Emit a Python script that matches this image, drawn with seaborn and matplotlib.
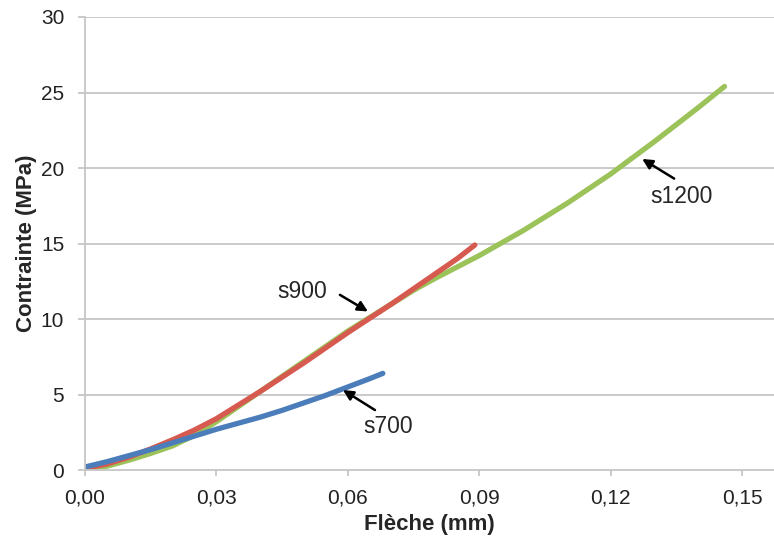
import pandas as pd
import numpy as np
import matplotlib
matplotlib.use("Agg")
import matplotlib.pyplot as plt
import seaborn as sns

# data
x_s700 = [0, 0.005, 0.01, 0.015, 0.02, 0.025, 0.03, 0.035, 0.04, 0.045, 0.05, 0.055, 0.06, 0.065, 0.068]
y_s700 = [0.2, 0.55, 0.95, 1.35, 1.8, 2.25, 2.7, 3.1, 3.5, 3.95, 4.45, 4.95, 5.5, 6.05, 6.4]

x_s900 = [0, 0.005, 0.01, 0.015, 0.02, 0.025, 0.03, 0.035, 0.04, 0.045, 0.05, 0.055, 0.06,
          0.065, 0.07, 0.075, 0.08, 0.085, 0.089]
y_s900 = [0.1, 0.4, 0.85, 1.4, 2.0, 2.65, 3.4, 4.3, 5.2, 6.15, 7.1, 8.1, 9.1,
          10.05, 11.0, 12.0, 13.0, 14.0, 14.9]

x_s1200 = [0, 0.005, 0.01, 0.015, 0.02, 0.025, 0.03, 0.035, 0.04, 0.045, 0.05, 0.055, 0.06,
           0.065, 0.07, 0.075, 0.08, 0.09, 0.1, 0.11, 0.12, 0.13, 0.14, 0.146]
y_s1200 = [0.05, 0.25, 0.65, 1.1, 1.6, 2.3, 3.2, 4.2, 5.2, 6.2, 7.2, 8.2, 9.2,
           10.1, 11.0, 11.9, 12.7, 14.2, 15.85, 17.65, 19.6, 21.75, 24.0, 25.4]

x_ticks = [0, 0.03, 0.06, 0.09, 0.12, 0.15]
x_tick_labels = ['0,00', '0,03', '0,06', '0,09', '0,12', '0,15']
y_ticks = [0, 5, 10, 15, 20, 25, 30]

sns.set_style("white")
plt.rcParams['font.family'] = ['Liberation Sans', 'DejaVu Sans']

fig = plt.figure(figsize=(7.74, 5.43), dpi=100)
ax = fig.add_axes([0.1098, 0.1344, 0.8902, 0.8343])

grid_c = '#c6c6c6'
for y in y_ticks[1:]:
    ax.axhline(y, color=grid_c, lw=1.3, zorder=0)

# green first, then red, then blue on top
sns.lineplot(x=x_s1200, y=y_s1200, ax=ax, color='#9cc35a', lw=3.8, sort=False, estimator=None)
sns.lineplot(x=x_s900, y=y_s900, ax=ax, color='#d65a50', lw=3.8, sort=False, estimator=None)
sns.lineplot(x=x_s700, y=y_s700, ax=ax, color='#4a7dba', lw=3.8, sort=False, estimator=None)

ax.set_xlim(0, 0.1573)
ax.set_ylim(0, 30)
ax.set_xticks(x_ticks)
ax.set_xticklabels(x_tick_labels)
ax.set_yticks(y_ticks)
ax.set_yticklabels([str(v) for v in y_ticks])

for s in ['top', 'right']:
    ax.spines[s].set_visible(False)
for s in ['left', 'bottom']:
    ax.spines[s].set_color(grid_c)
    ax.spines[s].set_linewidth(1.3)

ax.tick_params(axis='y', length=5, width=1.3, color=grid_c, pad=10, labelsize=15, labelcolor='#222222', left=True)
ax.tick_params(axis='x', length=4, width=1.3, color=grid_c, pad=9, labelsize=15, labelcolor='#222222', bottom=True)

ax.set_xlabel('Flèche (mm)', fontsize=16, fontweight='bold', labelpad=5)
ax.set_ylabel('Contrainte (MPa)', fontsize=16, fontweight='bold', labelpad=3)

arrow = dict(arrowstyle='-|>', color='black', lw=1.8, mutation_scale=15, shrinkA=0, shrinkB=0)
ax.annotate('', xy=(0.0646, 10.5), xytext=(0.0582, 11.6), arrowprops=arrow)
ax.text(0.0495, 11.8, 's900', fontsize=16.5, ha='center', va='center')
ax.annotate('', xy=(0.0589, 5.3), xytext=(0.0662, 3.97), arrowprops=arrow)
ax.text(0.0692, 2.85, 's700', fontsize=16.5, ha='center', va='center')
ax.annotate('', xy=(0.1272, 20.6), xytext=(0.1345, 19.3), arrowprops=arrow)
ax.text(0.1363, 18.1, 's1200', fontsize=16.5, ha='center', va='center')

fig.savefig('out.png', dpi=100)
